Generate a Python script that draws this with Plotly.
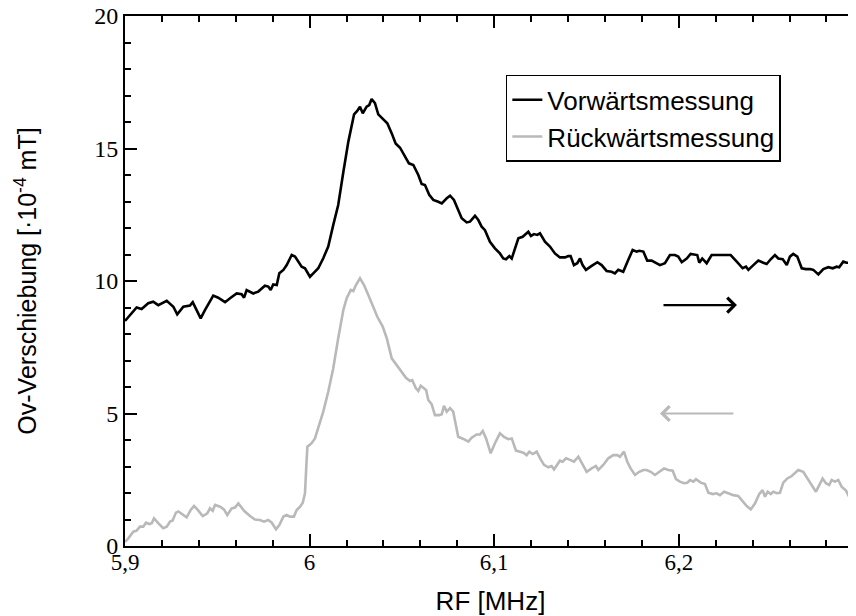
import plotly.graph_objects as go

# ---- data ----
fwd_x = [5.9000, 5.9027, 5.9063, 5.9090, 5.9126, 5.9153, 5.9180, 5.9226, 5.9262, 5.9283,
         5.9316, 5.9352, 5.9367, 5.9388, 5.9410, 5.9433, 5.9478, 5.9505, 5.9542, 5.9569,
         5.9605, 5.9632, 5.9645, 5.9659, 5.9695, 5.9722, 5.9758, 5.9776, 5.9789, 5.9803,
         5.9822, 5.9836, 5.9858, 5.9876, 5.9903, 5.9921, 5.9957, 5.9975, 6.0002, 6.0020,
         6.0047, 6.0074, 6.0101, 6.0128, 6.0155, 6.0183, 6.0210, 6.0241, 6.0258, 6.0273,
         6.0288, 6.0309, 6.0323, 6.0336, 6.0354, 6.0372, 6.0399, 6.0421, 6.0445, 6.0466,
         6.0490, 6.0511, 6.0538, 6.0562, 6.0589, 6.0607, 6.0625, 6.0648, 6.0670, 6.0697,
         6.0716, 6.0743, 6.0761, 6.0782, 6.0797, 6.0824, 6.0851, 6.0869, 6.0896, 6.0914,
         6.0932, 6.0950, 6.0977, 6.1004, 6.1031, 6.1049, 6.1064, 6.1082, 6.1095, 6.1107,
         6.1131, 6.1154, 6.1185, 6.1199, 6.1216, 6.1233, 6.1248, 6.1275, 6.1302, 6.1329,
         6.1356, 6.1384, 6.1401, 6.1414, 6.1432, 6.1450, 6.1465, 6.1479, 6.1497, 6.1528,
         6.1559, 6.1582, 6.1609, 6.1636, 6.1654, 6.1672, 6.1699, 6.1726, 6.1750, 6.1772,
         6.1786, 6.1808, 6.1829, 6.1853, 6.1876, 6.1898, 6.1925, 6.1952, 6.1979, 6.1997,
         6.2016, 6.2043, 6.2064, 6.2088, 6.2100, 6.2111, 6.2127, 6.2151, 6.2178, 6.2214,
         6.2238, 6.2259, 6.2281, 6.2314, 6.2346, 6.2364, 6.2377, 6.2404, 6.2431, 6.2458,
         6.2476, 6.2498, 6.2521, 6.2539, 6.2563, 6.2585, 6.2602, 6.2620, 6.2642, 6.2666,
         6.2689, 6.2711, 6.2729, 6.2756, 6.2783, 6.2810, 6.2834, 6.2855, 6.2869, 6.2891,
         6.2909, 6.2927, 6.2949, 6.2960]
fwd_y = [8.49, 8.72, 9.00, 8.94, 9.16, 9.22, 9.09, 9.25, 9.03, 8.74,
         9.03, 9.07, 9.20, 8.90, 8.59, 8.90, 9.45, 9.37, 9.20, 9.35,
         9.53, 9.50, 9.37, 9.66, 9.53, 9.60, 9.82, 9.79, 9.66, 9.87,
         9.85, 10.29, 10.42, 10.60, 10.98, 10.92, 10.54, 10.48, 10.16, 10.29,
         10.48, 10.86, 11.30, 12.11, 12.87, 14.12, 15.26, 16.29, 16.42, 16.58,
         16.33, 16.58, 16.64, 16.87, 16.71, 16.29, 16.08, 15.95, 15.57, 15.19,
         15.03, 14.75, 14.44, 14.38, 14.00, 13.66, 13.62, 13.25, 13.06, 12.99,
         12.93, 13.12, 13.22, 13.06, 12.80, 12.37, 12.21, 12.24, 12.46, 12.30,
         12.05, 11.92, 11.48, 11.23, 11.04, 10.85, 10.82, 10.94, 10.85, 11.10,
         11.61, 11.67, 11.86, 11.70, 11.77, 11.74, 11.80, 11.48, 11.30, 11.04,
         10.89, 10.89, 10.94, 10.94, 10.60, 10.67, 10.85, 10.60, 10.42, 10.57,
         10.71, 10.60, 10.38, 10.35, 10.29, 10.42, 10.35, 10.79, 11.17, 11.11,
         11.14, 11.11, 10.77, 10.77, 10.67, 10.60, 10.67, 10.98, 10.98, 10.92,
         10.71, 10.85, 11.02, 10.98, 10.98, 10.69, 10.85, 10.67, 10.98, 10.98,
         10.98, 10.98, 10.98, 10.73, 10.48, 10.54, 10.42, 10.60, 10.77, 10.69,
         10.64, 10.82, 10.98, 10.85, 10.82, 10.60, 10.92, 11.02, 10.92, 10.48,
         10.45, 10.45, 10.42, 10.25, 10.45, 10.52, 10.48, 10.54, 10.52, 10.73,
         10.69, 10.69, 10.54, 10.42]

bwd_x = [5.9000, 5.9018, 5.9045, 5.9063, 5.9081, 5.9099, 5.9114, 5.9132, 5.9145, 5.9157,
         5.9180, 5.9207, 5.9226, 5.9244, 5.9258, 5.9276, 5.9289, 5.9313, 5.9334, 5.9356,
         5.9374, 5.9392, 5.9421, 5.9446, 5.9460, 5.9475, 5.9488, 5.9515, 5.9536, 5.9554,
         5.9578, 5.9596, 5.9614, 5.9645, 5.9677, 5.9704, 5.9731, 5.9753, 5.9776, 5.9795,
         5.9818, 5.9836, 5.9858, 5.9876, 5.9894, 5.9915, 5.9930, 5.9948, 5.9963, 5.9975,
         5.9980, 5.9984, 5.9988, 6.0011, 6.0029, 6.0047, 6.0074, 6.0101, 6.0128, 6.0155,
         6.0183, 6.0201, 6.0223, 6.0237, 6.0251, 6.0273, 6.0295, 6.0318, 6.0345, 6.0367,
         6.0396, 6.0418, 6.0445, 6.0472, 6.0499, 6.0522, 6.0544, 6.0556, 6.0576, 6.0589,
         6.0602, 6.0631, 6.0643, 6.0661, 6.0679, 6.0703, 6.0716, 6.0728, 6.0743, 6.0761,
         6.0778, 6.0805, 6.0833, 6.0860, 6.0878, 6.0905, 6.0923, 6.0938, 6.0956, 6.0981,
         6.1004, 6.1031, 6.1053, 6.1076, 6.1095, 6.1118, 6.1140, 6.1158, 6.1176, 6.1190,
         6.1209, 6.1230, 6.1252, 6.1270, 6.1293, 6.1311, 6.1324, 6.1342, 6.1356, 6.1371,
         6.1389, 6.1411, 6.1432, 6.1456, 6.1479, 6.1501, 6.1528, 6.1551, 6.1564, 6.1591,
         6.1618, 6.1645, 6.1667, 6.1681, 6.1703, 6.1721, 6.1739, 6.1763, 6.1786, 6.1808,
         6.1826, 6.1848, 6.1871, 6.1894, 6.1920, 6.1943, 6.1967, 6.1985, 6.2006, 6.2028,
         6.2046, 6.2061, 6.2079, 6.2093, 6.2119, 6.2142, 6.2160, 6.2184, 6.2205, 6.2223,
         6.2245, 6.2268, 6.2295, 6.2322, 6.2349, 6.2368, 6.2390, 6.2413, 6.2436, 6.2454,
         6.2467, 6.2482, 6.2498, 6.2512, 6.2530, 6.2548, 6.2566, 6.2588, 6.2612, 6.2629,
         6.2647, 6.2674, 6.2701, 6.2725, 6.2743, 6.2761, 6.2779, 6.2797, 6.2815, 6.2828,
         6.2846, 6.2864, 6.2882, 6.2906, 6.2927, 6.2945, 6.2960]
bwd_y = [0.16, 0.29, 0.54, 0.58, 0.73, 0.73, 0.88, 0.83, 0.86, 1.04,
         0.86, 0.67, 0.73, 0.92, 0.96, 1.26, 1.30, 1.17, 1.08, 1.36,
         1.51, 1.38, 1.13, 1.23, 1.42, 1.33, 1.55, 1.48, 1.38, 1.17,
         1.42, 1.45, 1.61, 1.33, 1.13, 1.00, 0.98, 0.92, 0.98, 0.88,
         0.63, 0.79, 1.11, 1.17, 1.11, 1.11, 1.36, 1.48, 1.63, 1.99,
         2.49, 3.25, 3.75, 3.88, 4.06, 4.44, 5.07, 5.82, 6.70, 7.84,
         8.91, 9.35, 9.66, 9.62, 9.85, 10.10, 9.85, 9.47, 9.03, 8.65,
         8.28, 7.84, 7.08, 6.83, 6.58, 6.35, 6.23, 6.26, 5.95, 5.85,
         6.05, 5.89, 5.51, 5.35, 4.94, 4.94, 4.97, 5.29, 5.07, 5.20,
         5.07, 4.12, 4.04, 3.94, 4.09, 4.21, 4.21, 4.34, 4.06, 3.50,
         3.88, 4.25, 4.12, 4.03, 4.06, 3.60, 3.56, 3.52, 3.43, 3.56,
         3.47, 3.56, 3.27, 3.06, 2.97, 3.02, 2.89, 3.06, 3.22, 3.18,
         3.31, 3.25, 3.18, 3.37, 3.06, 2.80, 2.93, 3.02, 2.87, 3.06,
         3.31, 3.43, 3.43, 3.37, 3.56, 3.18, 2.93, 2.68, 2.80, 2.87,
         2.87, 2.80, 2.68, 2.80, 2.93, 2.87, 2.84, 2.52, 2.43, 2.37,
         2.39, 2.49, 2.43, 2.52, 2.39, 2.34, 2.01, 1.96, 1.99, 1.92,
         2.05, 1.99, 1.92, 1.89, 1.67, 1.51, 1.38, 1.61, 1.96, 2.11,
         1.86, 2.05, 1.96, 2.05, 1.99, 2.01, 2.39, 2.55, 2.64, 2.74,
         2.87, 2.80, 2.49, 2.24, 2.05, 2.30, 2.55, 2.37, 2.30, 2.49,
         2.43, 2.49, 2.24, 2.09, 1.80, 1.80, 1.92]

series_names = ["Vorwärtsmessung", "Rückwärtsmessung"]
x_tick_vals = [5.9, 6.0, 6.1, 6.2]
x_tick_text = ["5,9", "6", "6,1", "6,2"]
y_tick_vals = [0, 5, 10, 15, 20]
y_tick_text = ["0", "5", "10", "15", "20"]
x_range = [5.9, 6.296]
y_range = [0, 20]
# arrows: (tail_x, head_x, y)
fwd_arrow = [6.1909, 6.2315, 9.09]
bwd_arrow = [6.2304, 6.1898, 5.0]

BLACK = "#000000"
GRAY = "#b9b9b9"
SERIF = "Liberation Serif, Times New Roman, serif"
SANS = "Liberation Sans, Arial, sans-serif"

fig = go.Figure()
fig.add_trace(go.Scatter(x=fwd_x, y=fwd_y, mode="lines", name=series_names[0],
                         line=dict(color=BLACK, width=2.6)))
fig.add_trace(go.Scatter(x=bwd_x, y=bwd_y, mode="lines", name=series_names[1],
                         line=dict(color=GRAY, width=2.6)))
# invisible helper trace carrying the label axis (x2) and right-hand ticks (y2)
fig.add_trace(go.Scatter(x=[x_range[0]], y=[y_range[0]], xaxis="x2", yaxis="y2",
                         mode="lines", showlegend=False, hoverinfo="skip",
                         line=dict(width=0)))

for tail, head, yy, col in [(fwd_arrow[0], fwd_arrow[1], fwd_arrow[2], BLACK),
                            (bwd_arrow[0], bwd_arrow[1], bwd_arrow[2], GRAY)]:
    fig.add_annotation(x=head, y=yy, ax=tail, ay=yy, xref="x", yref="y",
                       axref="x", ayref="y", text="", showarrow=True,
                       arrowhead=4, arrowsize=1.3, arrowwidth=2.2, arrowcolor=col)

fig.update_layout(
    width=848, height=608,
    margin=dict(l=117, r=0, t=8, b=70),
    paper_bgcolor="white", plot_bgcolor="white",
    showlegend=True,
    legend=dict(x=0.521, y=0.889, xanchor="left", yanchor="top",
                bordercolor=BLACK, borderwidth=1.5, bgcolor="white",
                font=dict(family=SANS, size=26, color=BLACK),
                tracegroupgap=0),
    # main x axis: spine + ticks only
    xaxis=dict(range=x_range, tickvals=x_tick_vals, showticklabels=False,
               ticks="inside", ticklen=12, tickwidth=2, tickcolor=BLACK,
               showline=True, linecolor=BLACK, linewidth=2, mirror="ticks",
               showgrid=False, zeroline=False, automargin=False,
               minor=dict(dtick=0.02, tick0=5.9, ticks="inside", ticklen=6,
                          tickwidth=2, tickcolor=BLACK)),
    # label axis for x (no ticks) carrying tick labels and the title
    xaxis2=dict(range=x_range, overlaying="x", side="bottom", anchor="y",
                tickvals=x_tick_vals, ticktext=x_tick_text, ticks="",
                showline=False, showgrid=False, zeroline=False, automargin=False,
                tickfont=dict(family=SERIF, size=23, color=BLACK),
                title=dict(text="RF [MHz]", font=dict(family=SANS, size=26, color=BLACK),
                           standoff=17)),
    yaxis=dict(range=y_range, tickvals=y_tick_vals, ticktext=y_tick_text,
               ticks="inside", ticklen=12, tickwidth=2, tickcolor=BLACK,
               showline=True, linecolor=BLACK, linewidth=2, mirror=False,
               showgrid=False, zeroline=False, automargin=False,
               ticklabeloverflow="allow",
               tickfont=dict(family=SERIF, size=24, color=BLACK),
               minor=dict(dtick=1, tick0=0, ticks="inside", ticklen=6,
                          tickwidth=2, tickcolor=BLACK),
               title=dict(text="Ov-Verschiebung [·10<sup>-4</sup> mT]",
                          font=dict(family=SANS, size=25, color=BLACK), standoff=50)),
    yaxis2=dict(range=y_range, overlaying="y", side="right", anchor="x",
                tickvals=y_tick_vals, showticklabels=False,
                ticks="inside", ticklen=4, tickwidth=2, tickcolor=BLACK,
                showline=False, showgrid=False, zeroline=False),
)

fig.write_html("out.html")
